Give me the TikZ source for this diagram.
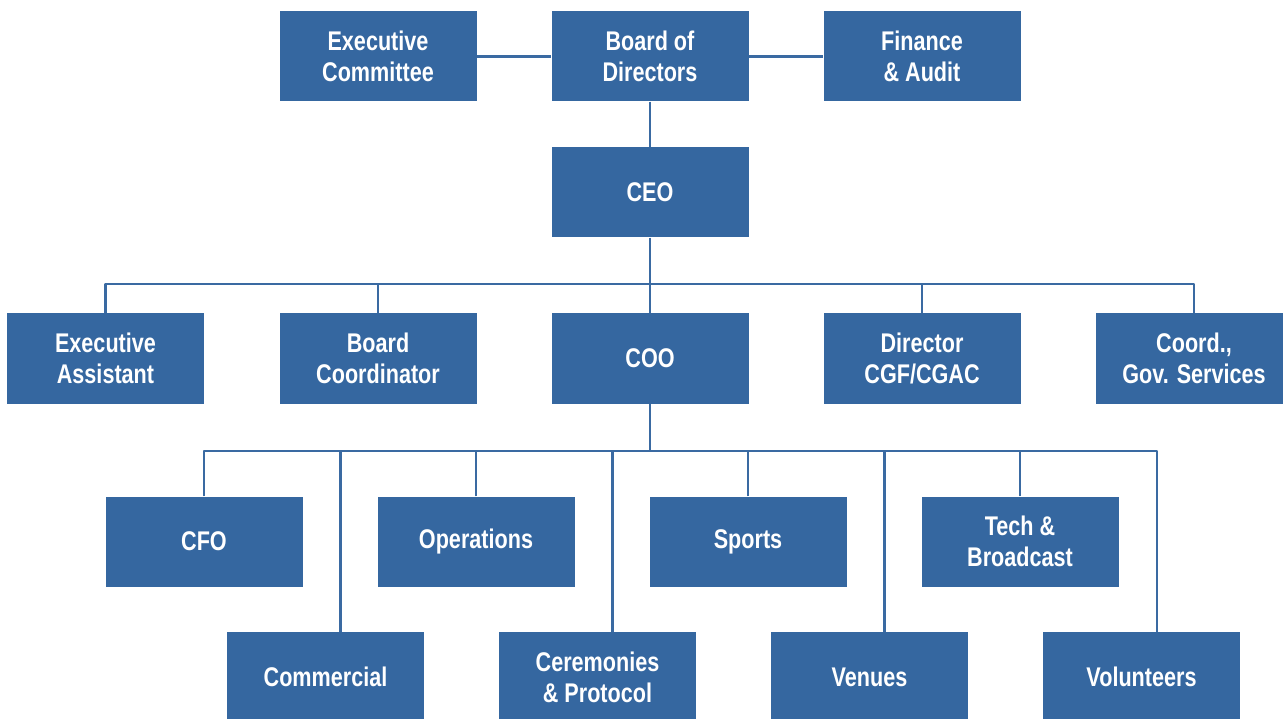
\documentclass[tikz,border=0pt]{standalone}
\usepackage{fontspec}
\setmainfont{Liberation Sans}[FakeStretch=0.8]
\definecolor{boxblue}{RGB}{53,103,160}
\definecolor{lineblue}{RGB}{58,106,162}
\begin{document}
\begin{tikzpicture}[x=1pt,y=-1pt,
  orgbox/.style={fill=boxblue, text=white, minimum width=197pt, minimum height=90pt,
    inner sep=0pt, align=center, font=\bfseries\fontsize{27}{31}\selectfont},
  conn/.style={draw=lineblue, line width=2.5pt, line join=round}]
\useasboundingbox (0,0) rectangle (1283,719);
\clip (0,0) rectangle (1283,719);
% row 1
\node[orgbox] (exec) at (378,56.5) {Executive\\Committee};
\node[orgbox] (board) at (650,56.5) {Board of\\Directors};
\node[orgbox] (fin) at (922,56.5) {Finance\\\& Audit};
% row 2
\node[orgbox] (ceo) at (650,192.5) {CEO};
% row 3
\node[orgbox] (ea) at (105.5,358.5) {Executive\\Assistant};
\node[orgbox] (bc) at (378,358.5) {Board\\Coordinator};
\node[orgbox] (coo) at (650,358.5) {COO};
\node[orgbox] (dir) at (922,358.5) {Director\\CGF/CGAC};
\node[orgbox] (gs) at (1194,358.5) {Coord.,\\Gov. Services};
% row 4
\node[orgbox] (cfo) at (204,541.5) {CFO};
\node[orgbox] (ops) at (476,541.5) {Operations};
\node[orgbox] (spo) at (748,541.5) {Sports};
\node[orgbox] (tech) at (1020,541.5) {Tech \&\\Broadcast};
% row 5
\node[orgbox] (com) at (325.5,677) {Commercial};
\node[orgbox] (cer) at (597.5,677) {Ceremonies\\\& Protocol};
\node[orgbox] (ven) at (869.5,677) {Venues};
\node[orgbox] (vol) at (1141.5,677) {Volunteers};
% connectors row 1
\draw[conn] (exec.east) -- (board.west);
\draw[conn] (board.east) -- (fin.west);
\draw[conn] (board.south) -- (ceo.north);
% bus A
\coordinate (busA) at (650,284);
\draw[conn] (ceo.south) -- (coo.north);
\draw[conn] (ea.north) |- (busA) -| (gs.north);
\draw[conn] (bc.north) -- (bc.north |- busA);
\draw[conn] (dir.north) -- (dir.north |- busA);
% bus B
\coordinate (busB) at (650,451);
\coordinate (comT) at ([xshift=15pt]com.north);
\coordinate (cerT) at ([xshift=15pt]cer.north);
\coordinate (venT) at ([xshift=15pt]ven.north);
\coordinate (volT) at ([xshift=15.5pt]vol.north);
\draw[conn] (coo.south) -- (busB);
\draw[conn] (cfo.north) |- (busB) -| (volT);
\draw[conn] (ops.north) -- (ops.north |- busB);
\draw[conn] (spo.north) -- (spo.north |- busB);
\draw[conn] (tech.north) -- (tech.north |- busB);
\draw[conn] (comT) -- (comT |- busB);
\draw[conn] (cerT) -- (cerT |- busB);
\draw[conn] (venT) -- (venT |- busB);
\end{tikzpicture}
\end{document}
